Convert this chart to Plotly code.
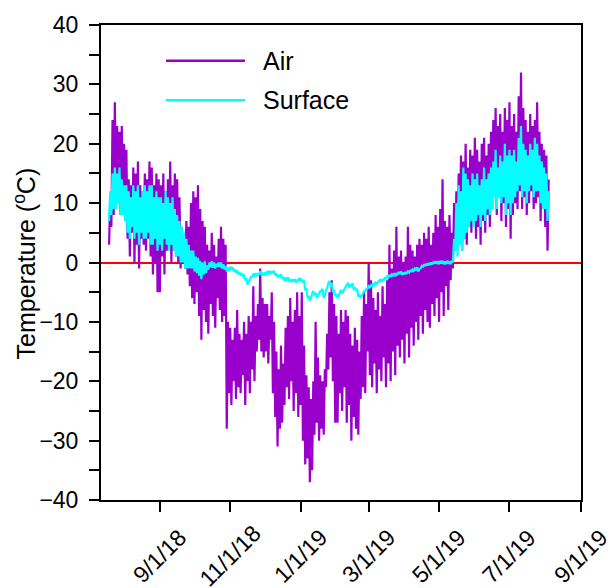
import pandas as pd
import plotly.graph_objects as go

# ---------------- data (2-day steps starting 2018-07-19) ----------------
START = "2018-07-19"

AIR_HI = [
    11, 24, 27, 23, 22, 23, 20,                                          # Jul 18
    19, 14, 13, 16, 15, 17, 13, 12, 15, 14, 17, 16, 13, 15, 14,          # Aug 18
    13, 15, 12, 14, 17, 13, 15, 14, 11, 6, 5, 7, 6, 10, 12,              # Sep 18
    11, 13, 9, 7, 6, 3, 2, 5, 3, 1, 4, 6, 4, 3, -10, -11,                # Oct 18
    -13, -11, -8, -12, -13, -10, -12, -9, -10, -4, -9, -7, -1, -6, -7,   # Nov 18
    -7, -9, -5, -10, -15, -18, -14, -17, -11, -9, -6, -10, -8, -5, -9,   # Dec 18
    -5, -14, -19, -21, -23, -20, -10, -16, -19, -20, -18, -12, -5, -3, -7, -9,  # Jan 19
    -12, -8, -10, -8, -9, -12, -14, -11, -13, -15, -9, -5, -7, 0,        # Feb 19
    -3, -6, -8, -5, -9, -4, -7, -3, 3, -1, 2, 6, 1, 2, 0,                # Mar 19
    1, 6, 3, 2, 1, 3, 4, 3, 5, 4, 6, 3, 5, 8, 6,                         # Apr 19
    9, 14, 7, 6, 8, 5, 10, 12, 15, 18, 17, 20, 16, 19, 18, 21,           # May 19
    19, 17, 20, 21, 18, 20, 22, 24, 26, 23, 25, 22, 26, 24, 27,          # Jun 19
    23, 25, 22, 28, 32, 26, 24, 22, 25, 23, 24, 27, 22, 20, 19,          # Jul 19
    18, 14,                                                              # Aug 19
]

AIR_LO = [
    3, 6, 8, 9, 10, 8, 9,
    7, 4, 1, 5, 0, 3, -1, 4, 3, 2, 4, 1, -2, 0, -5,
    -5, 1, -2, 2, 3, 0, 2, 1, 0, -1, 0, -1, -2, -4, -6,
    -7, -5, -9, -13, -8, -10, -12, -7, -9, -11, -6, -8, -10, -9, -28, -22,
    -24, -20, -23, -21, -22, -19, -24, -20, -22, -18, -20, -15, -13, -15, -16,
    -15, -17, -13, -22, -26, -31, -28, -27, -24, -21, -23, -20, -25, -22, -26,
    -24, -30, -34, -33, -37, -35, -29, -27, -30, -28, -29, -21, -18, -16, -20, -27,
    -27, -22, -25, -21, -27, -24, -30, -26, -28, -29, -23, -21, -22, -15,
    -19, -21, -17, -22, -18, -20, -16, -21, -17, -20, -15, -19, -14, -16, -13,
    -17, -12, -16, -11, -14, -10, -13, -9, -12, -8, -10, -11, -7, -9, -6,
    -10, -5, -9, -4, -8, -3, -1, 2, 3, 5, 2, 4, 3, 6, 5, 7,
    4, 6, 3, 7, 5, 8, 6, 9, 11, 8, 11, 7, 10, 6, 9,
    4, 8, 10, 9, 12, 9, 11, 8, 10, 12, 9, 10, 11, 7, 9,
    6, 2,
]

SURF_HI = [
    12, 15, 16, 15, 16, 14, 13,
    13, 12, 11, 13, 12, 13, 11, 12, 13, 12, 13, 13, 11, 12, 11,
    11, 10, 12, 11, 10, 11, 9, 8, 7, 6, 5, 4, 3, 2, 2,
    1, 0.8, 0.3, 0, 0.2, -0.5, 0, 0.2, 0, -0.2, 0, 0, -0.3, -0.6, -0.8, -0.7,
    -0.8, -1.1, -1.3, -1.6, -1.8, -2.0, -2.6, -3.3, -2.4, -2.0, -1.8, -1.9, -1.5, -1.7, -1.8,
    -1.6, -1.4, -1.5, -1.4, -1.8, -2.1, -2.0, -2.4, -2.7, -2.5, -2.8, -2.9, -2.8, -3.0, -2.6,
    -2.8, -3.0, -4.3, -5.6, -6.0, -4.8, -5.1, -5.6, -4.8, -4.4, -5.6, -4.3, -3.1, -3.4, -4.6, -5.3,
    -5.6, -4.6, -4.8, -4.0, -3.4, -3.8, -3.5, -4.2, -4.4, -5.4, -5.6, -4.8, -4.4, -4.0,
    -3.8, -3.6, -3.4, -3.2, -2.8, -2.9, -2.6, -2.3, -2.1, -2.0, -1.8, -1.9, -1.6, -1.5, -1.7,
    -1.6, -1.5, -1.3, -1.2, -1.0, -0.8, -1.1, -0.6, -0.3, -0.2, -0.1, 0, 0.1, 0.2, 0.2,
    0.3, 0.3, 0.2, 0.3, 0.2, 0.3, 4, 10, 13, 12, 16, 15, 14, 13, 15, 14,
    15, 13, 14, 16, 14, 15, 16, 17, 19, 16, 18, 17, 20, 18, 19,
    18, 19, 17, 21, 23, 20, 19, 18, 20, 19, 21, 20, 18, 17, 16,
    15, 12,
]

SURF_LO = [
    7, 8, 9, 9, 10, 8, 8,
    7, 5, 4, 6, 4, 5, 3, 5, 4, 4, 5, 3, 3, 4, 2,
    3, 2, 4, 3, 2, 3, 2, 1, 1, 0, 0, -1, -1, -1, -1,
    -1.5, -1.8, -2.2, -2.8, -2.0, -1.8, -1.2, -0.8, -0.9, -1.0, -0.7, -0.8, -1.0, -1.2, -1.5, -1.4,
    -1.2, -1.5, -1.7, -2.0, -2.2, -2.4, -3.0, -3.7, -2.8, -2.4, -2.2, -2.3, -1.9, -2.1, -2.2,
    -2.0, -1.8, -1.9, -1.8, -2.2, -2.5, -2.4, -2.8, -3.1, -2.9, -3.2, -3.3, -3.2, -3.4, -3.0,
    -3.2, -3.4, -4.7, -6.0, -6.4, -5.2, -5.5, -6.0, -5.2, -4.8, -6.0, -4.7, -3.5, -3.8, -5.0, -5.7,
    -6.0, -5.0, -5.2, -4.4, -3.8, -4.2, -3.9, -4.6, -4.8, -5.8, -6.0, -5.2, -4.8, -4.4,
    -4.2, -4.0, -3.8, -3.6, -3.2, -3.3, -3.0, -2.7, -2.5, -2.4, -2.2, -2.3, -2.0, -1.9, -2.1,
    -2.0, -1.9, -1.7, -1.6, -1.4, -1.2, -1.5, -1.0, -0.7, -0.6, -0.5, -0.4, -0.3, -0.2, -0.2,
    -0.3, -0.2, -0.3, -0.3, -0.2, -0.3, 0, 2, 1, 3, 2, 4, 5, 6, 7, 6,
    7, 8, 6, 8, 7, 9, 8, 9, 11, 9, 11, 10, 11, 8, 10,
    8, 10, 11, 12, 13, 11, 12, 10, 12, 13, 11, 12, 12, 10, 9,
    9, 7,
]

TICK_DATES = ["2018-09-01", "2018-11-01", "2019-01-01", "2019-03-01",
              "2019-05-01", "2019-07-01", "2019-09-01"]
TICK_LABELS = ["9/1/18", "11/1/18", "1/1/19", "3/1/19", "5/1/19", "7/1/19", "9/1/19"]

SERIES_NAMES = ["Air", "Surface"]
AIR_COLOR = "#9900CC"
SURF_COLOR = "#00FFFF"
FONT = "Liberation Sans, Arial, sans-serif"

# ---------------- build ----------------
steps = pd.date_range(START, periods=len(AIR_HI), freq="2D")


def zigzag(lo, hi):
    xs, ys = [], []
    for d, a, b in zip(steps, lo, hi):
        xs += [d, d + pd.Timedelta(hours=24)]
        ys += [a, b]
    return xs, ys


ax, ay = zigzag(AIR_LO, AIR_HI)
sx, sy = zigzag(SURF_LO, SURF_HI)

fig = go.Figure()
fig.add_trace(go.Scatter(x=ax, y=ay, mode="lines", name=SERIES_NAMES[0],
                         line=dict(color=AIR_COLOR, width=2.2), showlegend=False))
fig.add_trace(go.Scatter(x=sx, y=sy, mode="lines", name=SERIES_NAMES[1],
                         line=dict(color=SURF_COLOR, width=2.2), showlegend=False))

L, R, T, B = 101, 32, 20, 88
W, H = 613, 588
pw, ph = W - L - R, H - T - B

def px_x(px):
    return (px - L) / pw

def px_y(py):
    return (H - B - py) / ph

fig.update_layout(
    width=W, height=H,
    margin=dict(l=L, r=R, t=T, b=B, pad=0),
    plot_bgcolor="white", paper_bgcolor="white",
    font=dict(family=FONT, size=24, color="black"),
    showlegend=False,
)

fig.update_xaxes(
    type="date", range=["2018-07-12", "2019-09-01"],
    tickvals=TICK_DATES, showticklabels=False,
    ticks="outside", ticklen=10, tickwidth=1.5, tickcolor="black",
    showline=True, linecolor="black", linewidth=2, mirror=True,
    showgrid=False, zeroline=False,
)
fig.update_yaxes(
    range=[-40, 40], tick0=0, dtick=10,
    ticks="outside", ticklen=10, tickwidth=1.5, tickcolor="black",
    ticklabelstandoff=6,
    minor=dict(dtick=5, ticks="outside", ticklen=10, tickwidth=1.5,
               tickcolor="black", showgrid=False),
    showline=True, linecolor="black", linewidth=2, mirror=True,
    showgrid=False, zeroline=True, zerolinecolor="red", zerolinewidth=2,
    tickfont=dict(size=23),
)

annotations = []
for d, lab in zip(TICK_DATES, TICK_LABELS):
    annotations.append(dict(x=d, y=px_y(557), xref="x", yref="paper", text=lab,
                            textangle=-45, showarrow=False, xanchor="center",
                            yanchor="middle", font=dict(size=23)))
annotations.append(dict(x=px_x(25), y=px_y(261), xref="paper", yref="paper",
                        text="Temperature (<sup>o</sup>C)", textangle=-90,
                        showarrow=False, xanchor="center", yanchor="middle",
                        font=dict(size=25)))
# legend
shapes = []
for name, col, py in zip(SERIES_NAMES, [AIR_COLOR, SURF_COLOR], [56, 96]):
    shapes.append(dict(type="line", xref="paper", yref="paper",
                       x0=px_x(166), x1=px_x(245), y0=px_y(py), y1=px_y(py),
                       line=dict(color=col, width=2.5)))
    annotations.append(dict(x=px_x(261), y=px_y(py), xref="paper", yref="paper",
                            text=name, showarrow=False, xanchor="left",
                            yanchor="middle", font=dict(size=25)))

fig.update_layout(annotations=annotations, shapes=shapes)
fig.write_html("out.html")
